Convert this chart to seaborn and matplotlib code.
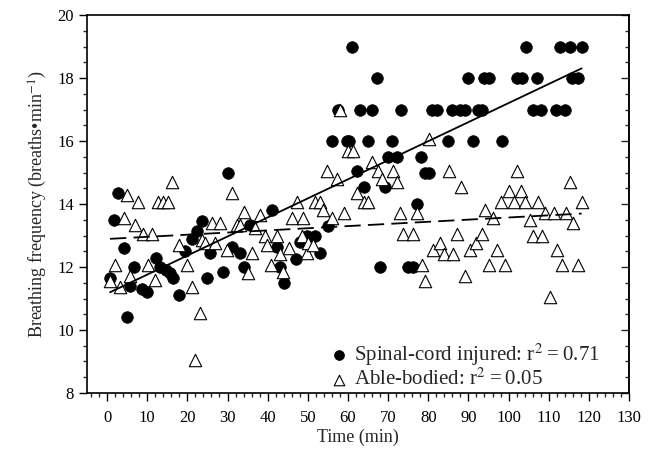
import numpy as np
import pandas as pd
import matplotlib
matplotlib.use("Agg")
import matplotlib.pyplot as plt
from matplotlib.ticker import MultipleLocator
import seaborn as sns

# Spinal-cord injured (filled circles): time (min), breaths/min
sci_time = [0.75, 1.8, 2.7, 4.1, 4.9, 5.7, 6.8, 8.6, 9.9, 12.2, 13.2, 14.7, 15.7, 16.5,
            17.8, 19.4, 21.1, 22.3, 23.6, 25.0, 25.7, 29.0, 30.1, 31.1, 33.0, 34.0, 35.6,
            41.0, 42.3, 43.1, 44.1, 47.1, 48.0, 49.8, 50.1, 51.8, 53.0, 55.1,
            56.0, 57.6, 59.7, 60.3, 61.1, 62.2, 63.0, 64.0, 65.1, 66.1, 67.2, 68.0, 69.2,
            69.9, 71.0, 72.1, 73.2, 75.0, 76.1, 77.1, 78.1, 79.2, 80.2, 80.9, 82.1, 85.0,
            85.9, 87.9, 89.2, 90.0, 91.2, 92.3, 93.3, 94.0, 95.2, 98.3, 102.2, 103.3,
            104.3, 106.0, 107.0, 108.2, 111.8, 112.8, 114.0, 115.3, 115.9, 117.2, 118.2]
sci_rate = [11.65, 13.5, 14.35, 12.6, 10.4, 11.4, 12.0, 11.3, 11.2, 12.3, 12.0, 11.9, 11.8, 11.65,
            11.1, 12.5, 12.9, 13.15, 13.45, 11.65, 12.45, 11.85, 15.0, 12.65, 12.45, 12.0, 13.35,
            13.8, 12.65, 12.0, 11.5, 12.25, 12.8, 13.0, 12.95, 13.0, 12.45, 13.3,
            16.0, 17.0, 16.0, 16.0, 19.0, 15.05, 17.0, 14.55, 16.0, 17.0, 18.0, 12.0, 14.55,
            15.5, 16.0, 15.5, 17.0, 12.0, 12.0, 14.0, 15.5, 15.0, 15.0, 17.0, 17.0, 16.0,
            17.0, 17.0, 17.0, 18.0, 16.0, 17.0, 17.0, 18.0, 18.0, 16.0, 18.0, 18.0,
            19.0, 17.0, 18.0, 17.0, 17.0, 19.0, 17.0, 19.0, 18.0, 18.0, 19.0]

# Able-bodied (open triangles)
ab_time = [0.75, 2.0, 3.2, 4.1, 4.9, 5.7, 7.0, 7.8, 9.0, 10.3, 11.1, 12.0, 12.8, 14.0,
           15.1, 16.1, 17.8, 19.8, 21.1, 21.9, 23.2, 23.6, 24.4, 26.1, 26.9, 28.1, 29.8,
           31.1, 32.3, 33.1, 34.0, 35.2, 36.0, 36.9, 38.1, 39.4, 39.8, 40.8, 42.3, 43.1,
           43.9, 45.2, 46.0, 47.2, 48.5, 48.9, 49.7, 50.1, 51.4, 51.8, 53.0, 53.9, 54.7,
           56.0, 57.2, 58.0, 58.9, 60.1, 61.3, 62.2, 63.9, 65.1, 65.9, 67.6, 68.4, 71.3,
           72.2, 73.0, 73.8, 76.1, 77.1, 78.4, 79.2, 80.2, 81.3, 82.9, 83.8, 85.2, 86.2,
           87.1, 88.2, 89.1, 90.4, 92.0, 93.3, 94.1, 95.2, 96.2, 97.1, 98.2, 99.2, 100.2,
           101.3, 102.2, 103.2, 104.2, 105.3, 106.1, 107.4, 108.3, 109.1, 110.3, 111.4,
           112.1, 113.2, 114.2, 115.3, 116.1, 117.3, 118.2]
ab_rate = [11.55, 12.05, 11.35, 13.55, 14.3, 11.7, 13.35, 14.05, 13.05, 12.05, 13.05, 11.6, 14.05, 14.05,
           14.05, 14.7, 12.7, 12.05, 11.35, 9.05, 10.55, 12.85, 12.75, 13.4, 12.75, 13.4, 12.55,
           14.35, 13.35, 13.35, 13.75, 11.8, 12.45, 13.25, 13.65, 13.0, 12.7, 12.05, 13.0, 12.4,
           11.85, 12.6, 13.55, 14.05, 13.0, 13.55, 12.45, 12.75, 12.7, 14.05, 14.05, 13.8, 15.05,
           13.55, 14.8, 17.0, 13.7, 15.7, 15.7, 14.35, 14.05, 14.05, 15.35, 15.05, 14.8, 15.05,
           14.7, 13.7, 13.05, 13.05, 13.7, 12.05, 11.55, 16.05, 12.55, 12.75, 12.4, 15.05, 12.4,
           13.05, 14.55, 11.7, 12.55, 12.75, 13.05, 13.8, 12.05, 13.55, 12.55, 14.05, 12.05, 14.4,
           14.05, 15.05, 14.4, 14.05, 13.5, 13.0, 14.05, 13.0, 13.7, 11.05, 13.7,
           12.55, 12.05, 13.7, 14.7, 13.4, 12.05, 14.05]

sci = pd.DataFrame({"time": sci_time, "rate": sci_rate})
ab = pd.DataFrame({"time": ab_time, "rate": ab_rate})

sns.set_style("ticks")
plt.rcParams["font.family"] = ["Liberation Serif", "DejaVu Serif"]
plt.rcParams["mathtext.fontset"] = "stix"

fig = plt.figure(figsize=(6.59, 4.58), dpi=100)
ax = fig.add_axes([0.132, 0.142, 0.8225, 0.825])

sns.scatterplot(data=sci, x="time", y="rate", ax=ax, marker="o", s=70,
                color="black", edgecolor="black", linewidth=0.5,
                label="Spinal-cord injured: r$^2$\u2009=\u20090.71", zorder=2)
sns.scatterplot(data=ab, x="time", y="rate", ax=ax, marker="^", s=80,
                facecolor="white", edgecolor="black", linewidth=0.8,
                label="Able-bodied: r$^2$\u2009=\u20090.05", zorder=3)

# regression lines
sns.regplot(data=sci, x="time", y="rate", ax=ax, scatter=False, ci=None,
            line_kws={"color": "black", "lw": 1.3, "zorder": 4})
sns.regplot(data=ab, x="time", y="rate", ax=ax, scatter=False, ci=None,
            line_kws={"color": "black", "lw": 1.3, "ls": (0, (9, 4)), "zorder": 4})

ax.set_xlim(-5, 130)
ax.set_ylim(8, 20)
ax.xaxis.set_major_locator(MultipleLocator(10))
ax.xaxis.set_minor_locator(MultipleLocator(2))
ax.yaxis.set_major_locator(MultipleLocator(2))
ax.yaxis.set_minor_locator(MultipleLocator(0.5))
ax.tick_params(which="major", length=6, width=1, labelsize=12, colors="black")
ax.tick_params(which="minor", length=3, width=1)
ax.tick_params(axis="x", pad=6)

sec = ax.secondary_yaxis("right")
sec.yaxis.set_major_locator(MultipleLocator(2))
sec.yaxis.set_minor_locator(MultipleLocator(0.5))
sec.tick_params(which="both", direction="in", labelright=False)
sec.tick_params(which="major", length=6, width=1)
sec.tick_params(which="minor", length=3, width=1)

for sp in ax.spines.values():
    sp.set_visible(True)
    sp.set_linewidth(1.2)
    sp.set_color("black")
sec.spines["right"].set_linewidth(1.2)

ax.set_xlabel("Time (min)", fontsize=13, labelpad=2)
ax.set_ylabel("Breathing frequency (breaths\u2022min$^{-1}$)", fontsize=13, labelpad=6)

leg = ax.legend(loc="lower right", frameon=False, fontsize=15, handletextpad=0.2,
                borderaxespad=0.1, labelspacing=0.05, handlelength=1.0, markerscale=0.85,
                bbox_to_anchor=(0.965, -0.02))

fig.savefig("out.png", dpi=100, facecolor="white")
